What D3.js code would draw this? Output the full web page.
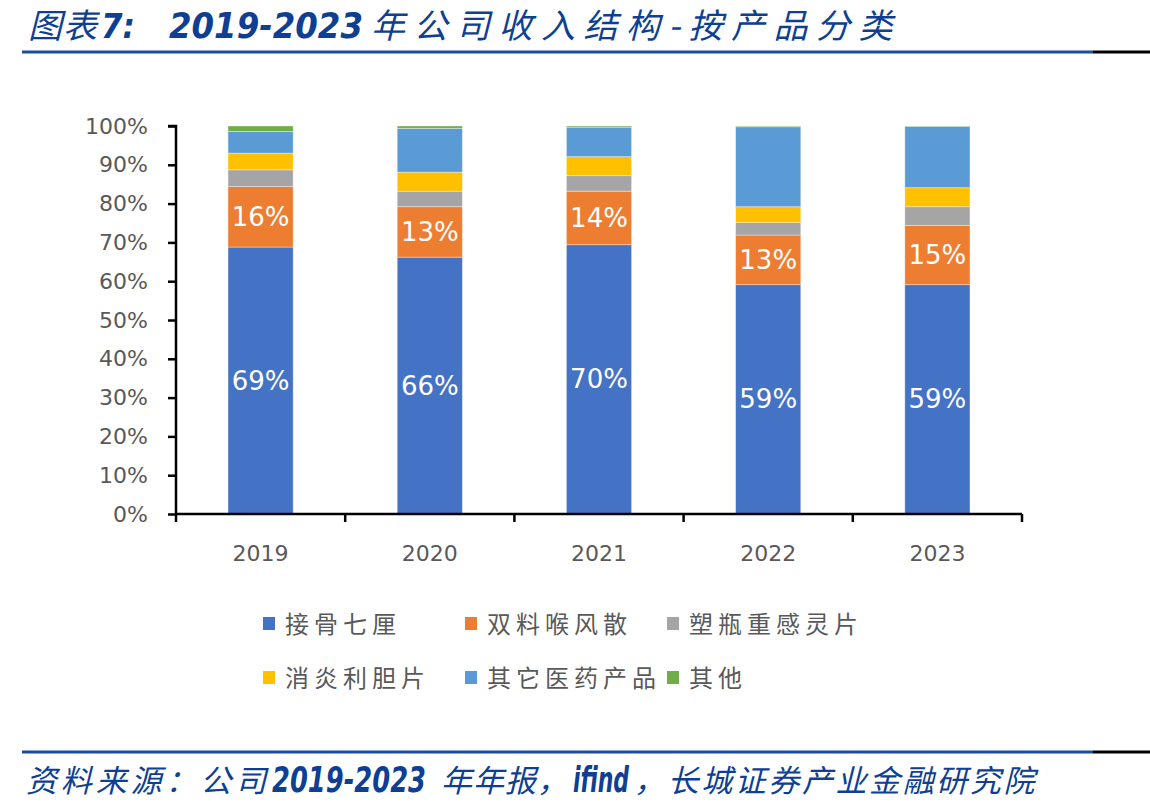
<!DOCTYPE html>
<html>
<head>
<meta charset="utf-8">
<script src="https://cdn.jsdelivr.net/npm/d3@7"></script>
<style>
  body { margin: 0; background: #fff; }
  #target { width: 1150px; height: 805px; }
</style>
</head>
<body>
<div id="target"></div>
<script>
// data (percent of revenue)
const years = ["2019", "2020", "2021", "2022", "2023"];
const products = ["接骨七厘", "双料喉风散", "塑瓶重感灵片", "消炎利胆片", "其它医药产品", "其他"];
const jiegu = [68.8, 66.2, 69.4, 59.1, 59.1];
const shuangliao = [15.6, 13.0, 13.8, 12.8, 15.3];
const suping = [4.3, 4.0, 4.0, 3.2, 4.8];
const xiaoyan = [4.3, 4.9, 4.9, 4.1, 4.9];
const qitaYiyao = [5.6, 11.3, 7.6, 20.6, 15.8];
const qita = [1.4, 0.6, 0.3, 0.2, 0.1];
const labelsBlue = ["69%", "66%", "70%", "59%", "59%"];
const labelsOrange = ["16%", "13%", "14%", "13%", "15%"];
const yTicks = [0, 10, 20, 30, 40, 50, 60, 70, 80, 90, 100];

const series = [jiegu, shuangliao, suping, xiaoyan, qitaYiyao, qita];
const colors = ["#4472C4", "#ED7D31", "#A5A5A5", "#FFC000", "#5B9BD5", "#70AD47"];

function chart() {
  const width = 1150, height = 805;
  const cjk = "'Noto Sans CJK SC', 'DejaVu Sans', sans-serif";
  const num = "'DejaVu Sans', 'Noto Sans', sans-serif";
  const navy = "#0E3F93";

  let svg = d3.select("#target").append("svg")
    .attr("width", width)
    .attr("height", height);

  // pieces of text fitted to the widths seen in the picture:
  // latin ones are squeezed horizontally, CJK ones get extra letter spacing
  function piece(txt, px, py, size, len, latin) {
    let t = svg.append("text")
      .attr("fill", navy)
      .style("font-style", "italic")
      .style("font-weight", latin ? "bold" : "normal")
      .style("font-size", size + "px")
      .style("font-family", latin ? num : cjk)
      .text(txt);
    let w = t.node().getComputedTextLength();
    if (latin) {
      t.attr("transform", `translate(${px},${py}) scale(${len / w},1)`);
    } else {
      let ls = (len - w) / txt.length;
      t.style("letter-spacing", ls + "px")
        .attr("transform", `translate(${px},${py})`);
    }
    return t;
  }

  // title
  piece("图表", 28, 38, 34, 70, false);
  piece("7:", 101, 38, 34, 34, true);
  piece("2019-2023", 169, 38, 35, 194, true);
  piece("年公司收入结构-按产品分类", 371, 38, 34, 530, false);

  // rules under title and above the source
  [52, 752].forEach((yy) => {
    svg.append("line").attr("x1", 22).attr("x2", 1093).attr("y1", yy).attr("y2", yy)
      .attr("stroke", "#1D4C9C").attr("stroke-width", 3);
    svg.append("line").attr("x1", 1093).attr("x2", 1150).attr("y1", yy).attr("y2", yy)
      .attr("stroke", "#000").attr("stroke-width", 3);
  });

  // source line
  piece("资料来源：公司", 26, 792, 31, 244, false);
  piece("2019-2023", 272, 792, 35, 154, true);
  piece("年年报，", 441, 792, 31, 128, false);
  piece("ifind", 573, 792, 35, 56, true);
  piece("，长城证券产业金融研究院", 634, 792, 31, 403, false);

  // plot
  const left = 176, right = 1022, top = 126, bottom = 514;
  let x = d3.scaleBand()
    .domain(years)
    .range([left, right])
    .paddingInner(0.615)
    .paddingOuter(0.3075);
  let y = d3.scaleLinear()
    .domain([0, 100])
    .range([bottom, top]);

  let rows = years.map((yr, i) => {
    let r = { year: yr };
    products.forEach((p, j) => { r[p] = series[j][i]; });
    return r;
  });
  let stacked = d3.stack().keys(products)(rows);

  let g = svg.append("g");
  stacked.forEach((layer, j) => {
    g.selectAll(null)
      .data(layer)
      .enter().append("rect")
      .attr("x", (d) => x(d.data.year))
      .attr("width", x.bandwidth())
      .attr("y", (d) => y(d[1]))
      .attr("height", (d) => y(d[0]) - y(d[1]))
      .style("fill", colors[j])
      .attr("stroke", "rgba(255,255,255,0.45)")
      .attr("stroke-width", 0.8);
  });

  // data labels on the first two series
  [[0, labelsBlue], [1, labelsOrange]].forEach(([j, labs]) => {
    g.selectAll(null)
      .data(stacked[j])
      .enter().append("text")
      .attr("x", (d) => x(d.data.year) + x.bandwidth() / 2)
      .attr("y", (d) => y((d[0] + d[1]) / 2) + 9)
      .attr("text-anchor", "middle")
      .attr("fill", "#fff")
      .style("font-size", "26px")
      .style("font-family", num)
      .text((d, i) => labs[i]);
  });

  // y axis
  let yAxis = d3.axisLeft(y)
    .tickValues(yTicks)
    .tickSize(8)
    .tickPadding(20)
    .tickFormat((d) => d + "%");
  let ya = svg.append("g")
    .attr("transform", `translate(${left},0)`)
    .call(yAxis);
  ya.select(".domain").attr("stroke", "#000").attr("stroke-width", 2.5).attr("d", `M-8,${top}H0V${bottom}`);
  ya.selectAll(".tick line").attr("stroke", "#000").attr("stroke-width", 2.5);
  ya.selectAll(".tick text")
    .attr("fill", "#595959")
    .style("font-size", "22px")
    .style("font-family", num);

  // x axis with ticks at band edges
  let xa = svg.append("g").attr("transform", `translate(0,${bottom})`);
  xa.append("line").attr("x1", left).attr("x2", right)
    .attr("stroke", "#000").attr("stroke-width", 2.5);
  let edges = d3.range(years.length + 1).map((i) => left + i * (right - left) / years.length);
  xa.selectAll(null).data(edges).enter().append("line")
    .attr("x1", (d) => d).attr("x2", (d) => d)
    .attr("y1", 0).attr("y2", 8)
    .attr("stroke", "#000").attr("stroke-width", 2.5);
  xa.selectAll(null).data(years).enter().append("text")
    .attr("x", (d) => x(d) + x.bandwidth() / 2)
    .attr("y", 47)
    .attr("text-anchor", "middle")
    .attr("fill", "#595959")
    .style("font-size", "22px")
    .style("font-family", num)
    .text((d) => d);

  // legend
  const legX = [263, 465, 667];
  const legY = [624, 678];
  let leg = svg.append("g");
  products.forEach((p, j) => {
    let lx = legX[j % 3], ly = legY[Math.floor(j / 3)];
    leg.append("rect")
      .attr("x", lx).attr("y", ly - 7)
      .attr("width", 12).attr("height", 13)
      .style("fill", colors[j]);
    leg.append("text")
      .attr("x", lx + 22).attr("y", ly + 9)
      .attr("fill", "#595959")
      .style("font-size", "24px")
      .style("letter-spacing", "5px")
      .style("font-family", cjk)
      .text(p);
  });
}
chart();
</script>
</body>
</html>
